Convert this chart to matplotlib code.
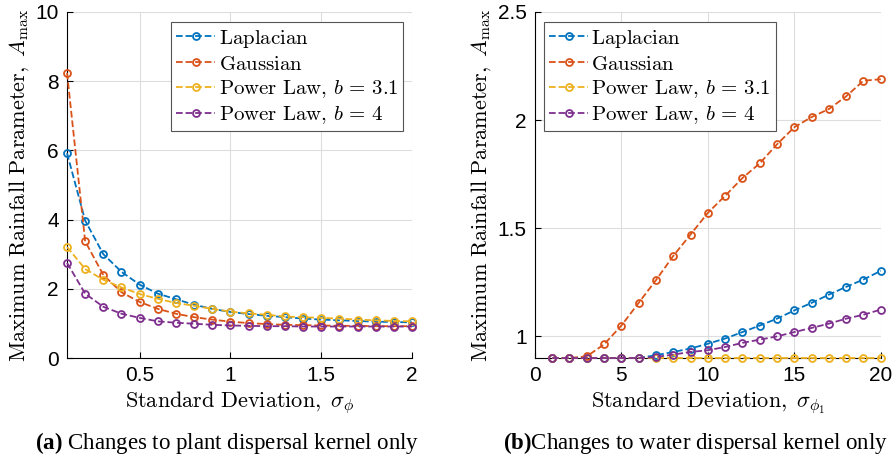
import numpy as np
import matplotlib.pyplot as plt

plt.rcParams['mathtext.fontset'] = 'custom'
plt.rcParams['mathtext.rm'] = 'Liberation Serif'
plt.rcParams['mathtext.bf'] = 'Liberation Serif:bold'

# panel (a): plant dispersal kernel
sig_a = [0.1, 0.2, 0.3, 0.4, 0.5, 0.6, 0.7, 0.8, 0.9, 1.0,
         1.1, 1.2, 1.3, 1.4, 1.5, 1.6, 1.7, 1.8, 1.9, 2.0]
lap_a = [5.92, 3.97, 3.0, 2.49, 2.12, 1.86, 1.70, 1.54, 1.42, 1.33,
         1.27, 1.22, 1.18, 1.14, 1.11, 1.09, 1.07, 1.05, 1.04, 1.03]
gau_a = [8.24, 3.37, 2.40, 1.90, 1.62, 1.42, 1.28, 1.18, 1.11, 1.05,
         1.01, 0.98, 0.96, 0.95, 0.94, 0.93, 0.93, 0.92, 0.92, 0.92]
pl31_a = [3.21, 2.57, 2.26, 2.04, 1.85, 1.71, 1.59, 1.51, 1.42, 1.34,
          1.29, 1.25, 1.20, 1.18, 1.16, 1.14, 1.11, 1.09, 1.07, 1.06]
pl4_a = [2.75, 1.86, 1.48, 1.28, 1.16, 1.06, 1.02, 0.99, 0.96, 0.94,
         0.93, 0.92, 0.92, 0.91, 0.91, 0.91, 0.91, 0.91, 0.91, 0.91]

# panel (b): water dispersal kernel
sig_b = list(range(1, 21))
lap_b = [0.9, 0.9, 0.9, 0.9, 0.9, 0.9, 0.913, 0.928, 0.944, 0.966,
         0.99, 1.02, 1.05, 1.082, 1.12, 1.155, 1.193, 1.229, 1.263, 1.303]
gau_b = [0.9, 0.9, 0.908, 0.963, 1.05, 1.155, 1.26, 1.372, 1.471, 1.571,
         1.65, 1.732, 1.80, 1.888, 1.967, 2.014, 2.051, 2.11, 2.182, 2.189]
pl31_b = [0.9] * 20
pl4_b = [0.9, 0.9, 0.9, 0.9, 0.9, 0.9, 0.905, 0.916, 0.928, 0.936,
         0.951, 0.97, 0.985, 1.0, 1.02, 1.039, 1.059, 1.082, 1.1, 1.124]

labels = [r'$\mathrm{Laplacian}$', r'$\mathrm{Gaussian}$',
          r'$\mathrm{Power\ Law,}\,b\,=\,3.1$', r'$\mathrm{Power\ Law,}\,b\,=\,4$']
colors = ['#0072BD', '#D95319', '#EDB120', '#7E2F8E']

fig = plt.figure(figsize=(8.96, 4.59), dpi=100)
ax1 = fig.add_axes([0.0748, 0.220, 0.385, 0.754])
ax2 = fig.add_axes([0.597, 0.220, 0.386, 0.754])

def draw(ax, x, series):
    for ys, c, lab in zip(series, colors, labels):
        ax.plot(x, ys, '--o', color=c, mfc='none', ms=5, mew=1.3, lw=1.3,
                label=lab, clip_on=False, zorder=3)
    ax.grid(True, color='#dddddd', lw=0.8)
    ax.set_axisbelow(True)
    for s in ['top', 'right']:
        ax.spines[s].set_visible(False)
    ax.tick_params(direction='in', labelsize=15, length=4, pad=6)
    ax.set_ylabel(r'$\mathrm{Maximum\ Rainfall\ Parameter,}\ A_{\max}$',
                  fontsize=16, labelpad=3, math_fontfamily='cm')

def legend(ax, anchor, loc):
    leg = ax.legend(loc=loc, bbox_to_anchor=anchor, fontsize=15, handlelength=1.9,
                    handletextpad=0.15, borderpad=0.25, labelspacing=0.2,
                    borderaxespad=0, fancybox=False, framealpha=1, edgecolor='#555555')
    for t in leg.get_texts():
        t.set_math_fontfamily('cm')
    leg.get_frame().set_linewidth(0.8)

draw(ax1, sig_a, [lap_a, gau_a, pl31_a, pl4_a])
ax1.set_xlim(0.1, 2)
ax1.set_ylim(0, 10)
ax1.set_xticks([0.5, 1, 1.5, 2])
ax1.set_xticklabels(['0.5', '1', '1.5', '2'], family='Liberation Sans')
ax1.set_yticks([0, 2, 4, 6, 8, 10])
ax1.set_yticklabels(['0', '2', '4', '6', '8', '10'], family='Liberation Sans')
ax1.set_xlabel(r'$\mathrm{Standard\ Deviation,}\ \sigma_{\phi}$', fontsize=16,
               labelpad=3, math_fontfamily='cm')
legend(ax1, (0.975, 0.97), 'upper right')

draw(ax2, sig_b, [lap_b, gau_b, pl31_b, pl4_b])
ax2.set_xlim(0, 20)
ax2.set_ylim(0.9, 2.5)
ax2.set_xticks([0, 5, 10, 15, 20])
ax2.set_xticklabels(['0', '5', '10', '15', '20'], family='Liberation Sans')
ax2.set_yticks([1, 1.5, 2, 2.5])
ax2.set_yticklabels(['1', '1.5', '2', '2.5'], family='Liberation Sans')
ax2.set_xlabel(r'$\mathrm{Standard\ Deviation,}\ \sigma_{\phi_1}$', fontsize=16,
               labelpad=3, math_fontfamily='cm')
legend(ax2, (0.025, 0.97), 'upper left')

fig.text(0.039, 0.035, r'$\mathbf{(a)}$ Changes to plant dispersal kernel only',
         fontsize=16.5, family='Liberation Serif', va='center')
fig.text(0.561, 0.035, r'$\mathbf{(b)}$Changes to water dispersal kernel only',
         fontsize=16.5, family='Liberation Serif', va='center')

fig.savefig('out.png', dpi=100)
